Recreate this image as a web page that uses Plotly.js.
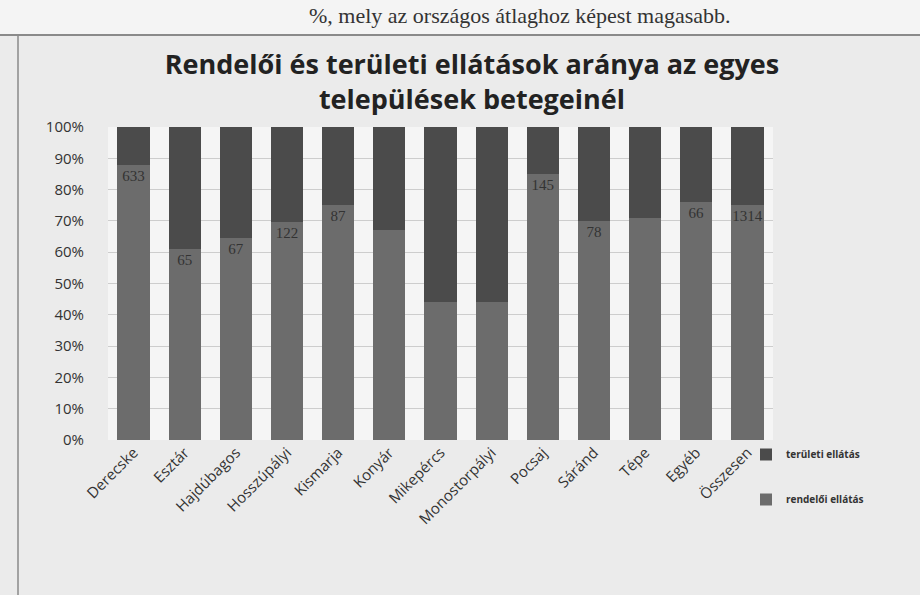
<!DOCTYPE html>
<html>
<head>
<meta charset="utf-8">
<script src="https://cdn.plot.ly/plotly-3.0.1.min.js"></script>
<style>html,body{margin:0;padding:0;background:#ebebeb;}#chart{width:920px;height:595px;}</style>
</head>
<body>
<div id="chart"></div>
<script>
const categories = ["Derecske","Esztár","Hajdúbagos","Hosszúpályi","Kismarja","Konyár","Mikepércs","Monostorpályi","Pocsaj","Sáránd","Tépe","Egyéb","Összesen"];
const rendeloi = [0.88,0.61,0.645,0.695,0.75,0.67,0.44,0.44,0.85,0.70,0.71,0.76,0.75];
const teruleti = rendeloi.map(v => +(1 - v).toFixed(3));
const rendeloiLabels = ["633","65","67","122","87","","","","145","78","","66","1314"];
const titleText = "Rendelői és területi ellátások aránya az egyes<br>települések betegeinél";
const pageText = "%, mely az országos átlaghoz képest magasabb.";

// pixel -> paper helpers (plot area: x 108..773, y 127..440)
const PL = 108, PW = 665, PT = 127, PH = 313;
const px = v => (v - PL) / PW;
const py = v => (PT + PH - v) / PH;

const traces = [
  {type:'bar', name:'rendelői ellátás', legendgroup:'r', legendrank:2, x:categories, y:rendeloi,
   marker:{color:'#6c6c6c'},
   text:rendeloiLabels, textposition:'inside', insidetextanchor:'end', textangle:0,
   constraintext:'none', cliponaxis:false,
   textfont:{family:'Liberation Serif, serif', size:15, color:'#333'}},
  {type:'bar', name:'területi ellátás', legendgroup:'t', legendrank:1, x:categories, y:teruleti,
   marker:{color:'#4b4b4b'}, textposition:'none'}
];

const layout = {
  width:920, height:595,
  paper_bgcolor:'#ebebeb', plot_bgcolor:'#f5f5f5',
  barmode:'stack', bargap:0.37,
  margin:{l:PL, r:920-PL-PW, t:PT, b:595-PT-PH},
  title:{text:titleText, x:0.513, xanchor:'center', y:0.875, yanchor:'middle',
    font:{family:'Open Sans, sans-serif', size:27, color:'#222', weight:'bold'}},
  xaxis:{tickangle:-45, tickfont:{family:'Open Sans, sans-serif', size:15, color:'#333'},
    showgrid:false, showline:false, ticks:''},
  yaxis:{range:[0,1], dtick:0.1, tickformat:'.0%', showgrid:true, gridcolor:'#cdcdcd',
    gridwidth:1, zeroline:false, showline:false, ticks:'', ticklabelstandoff:23,
    tickfont:{family:'Open Sans, sans-serif', size:15, color:'#333'}},
  legend:{traceorder:'grouped', x:px(746), xanchor:'left', y:py(440), yanchor:'top',
    font:{family:'Open Sans, sans-serif', size:10, color:'#333', weight:'bold'},
    tracegroupgap:26, itemwidth:30, bgcolor:'rgba(0,0,0,0)'},
  showlegend:true,
  shapes:[
    {type:'rect', xref:'paper', yref:'paper', x0:px(0), x1:px(920), y0:py(35), y1:py(0), layer:'below', line:{width:0}, fillcolor:'#f4f4f4'},
    {type:'line', xref:'paper', yref:'paper', x0:px(0), x1:px(920), y0:py(35), y1:py(35), line:{width:2, color:'#8a8a8a'}},
    {type:'line', xref:'paper', yref:'paper', x0:px(18), x1:px(18), y0:py(35), y1:py(595), line:{width:1.5, color:'#8a8a8a'}}
  ],
  annotations:[
    {text:pageText, xref:'paper', yref:'paper', x:px(520), y:py(15), xanchor:'center', yanchor:'middle', showarrow:false,
     font:{family:'Liberation Serif, DejaVu Serif, serif', size:22, color:'#333'}}
  ]
};
Plotly.newPlot('chart', traces, layout, {displayModeBar:false});
</script>
</body>
</html>
